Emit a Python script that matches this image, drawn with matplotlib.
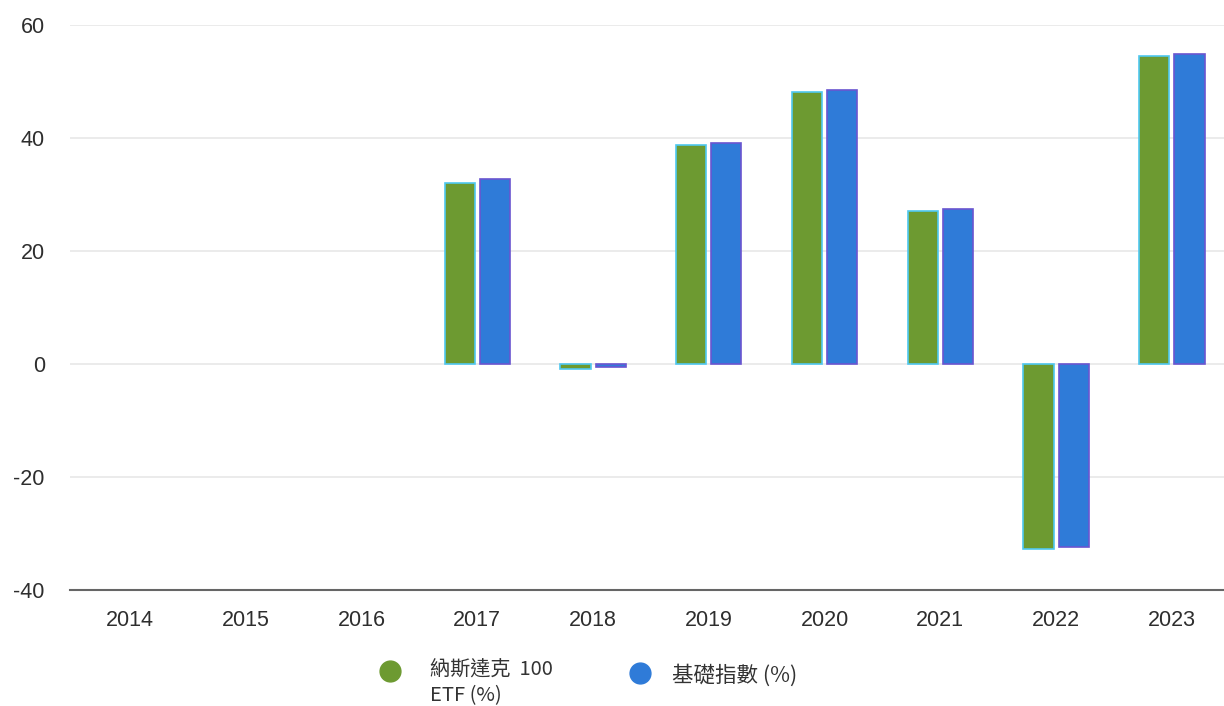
import numpy as np
import matplotlib
matplotlib.use("Agg")
import matplotlib.pyplot as plt
from matplotlib.lines import Line2D

plt.rcParams["axes.unicode_minus"] = False

years = ["2014", "2015", "2016", "2017", "2018", "2019", "2020", "2021", "2022", "2023"]
etf = [np.nan, np.nan, np.nan, 32.0, -0.9, 38.8, 48.1, 27.1, -32.7, 54.5]
index = [np.nan, np.nan, np.nan, 32.7, -0.5, 39.1, 48.5, 27.4, -32.4, 54.9]
series_names = ["納斯達克  100\nETF (%)", "基礎指數 (%)"]

GREEN = "#6d9a31"; BLUE = "#2f7bd8"
GREEN_EDGE = "#4fc8f0"; BLUE_EDGE = "#6a55d0"
TICK = "#2e2e2e"

fig = plt.figure(figsize=(12.24, 7.06), dpi=100)
ax = fig.add_axes([0.057, 0.164, 0.943, 0.801])

x = np.arange(len(years))
w = 0.26
ax.bar(x - 0.152, etf, w, color=GREEN, edgecolor=GREEN_EDGE, linewidth=1.2, zorder=3)
ax.bar(x + 0.152, index, w, color=BLUE, edgecolor=BLUE_EDGE, linewidth=1.2, zorder=3)

ax.set_ylim(-40, 60)
ax.set_xlim(-0.52, 9.45)
ax.set_yticks([-40, -20, 0, 20, 40, 60])
ax.set_xticks(x)
ax.set_xticklabels(years)
ax.grid(axis="y", color="#e8e8e8", lw=1.2, zorder=0)
for s in ["top", "right", "left"]:
    ax.spines[s].set_visible(False)
ax.spines["bottom"].set_color("#666666")
ax.spines["bottom"].set_linewidth(1.5)
ax.tick_params(length=0, labelsize=15.5, labelcolor=TICK)
ax.tick_params(axis="x", pad=14)
ax.tick_params(axis="y", pad=18)
for lab in ax.get_xticklabels() + ax.get_yticklabels():
    lab.set_family(["Liberation Sans", "DejaVu Sans"])

# legend below the axis
fam = ["Noto Sans CJK TC", "DejaVu Sans"]
fig.add_artist(Line2D([390 / 1224], [1 - 671 / 706], marker="o", ms=15,
                      color=GREEN, transform=fig.transFigure))
fig.text(430 / 1224, 1 - 670 / 706, "納斯達克  100", family=fam, fontsize=14.5,
         color="#333333", va="center", ha="left")
fig.text(430 / 1224, 1 - 696 / 706, "ETF (%)", family=fam, fontsize=14.5,
         color="#333333", va="center", ha="left")
fig.add_artist(Line2D([640 / 1224], [1 - 673 / 706], marker="o", ms=15,
                      color=BLUE, transform=fig.transFigure))
fig.text(672 / 1224, 1 - 675 / 706, series_names[1], family=fam, fontsize=15.5,
         color="#333333", va="center", ha="left")

fig.savefig("out.png", dpi=100)
